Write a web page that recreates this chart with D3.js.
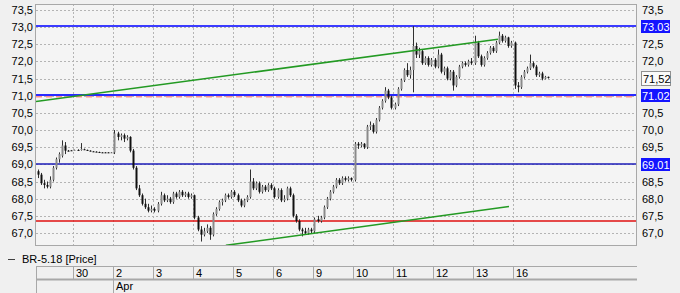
<!DOCTYPE html>
<html>
<head>
<meta charset="utf-8">
<script src="https://cdnjs.cloudflare.com/ajax/libs/d3/7.8.5/d3.min.js"></script>
<style>
  html, body { margin: 0; padding: 0; background: #f0f0f0; }
  svg text { font-family: "Liberation Sans", Arial, sans-serif; font-size: 11px; fill: #000; }
</style>
</head>
<body>
<div id="chart"></div>
<script>
// Day labels and the bar slot where each day starts
var dayLabels = ["30", "2", "3", "4", "5", "6", "9", "10", "11", "12", "13", "16"];
var dayStarts = [12, 25, 38, 51, 64, 77, 90, 103, 116, 129, 142, 155];
var monthLabel = {text: "Apr", slot: 25};

// OHLC per bar (rows = one trading day)
var opens = [
  68.80,68.70,68.45,68.40,68.35,68.55,68.90,69.15,69.25,69.55,69.40,69.41,
  69.41,69.42,69.42,69.44,69.42,69.40,69.38,69.37,69.36,69.35,69.35,69.35,69.34,
  69.35,69.90,69.80,69.85,69.75,69.80,69.40,68.90,68.30,68.10,67.85,67.75,67.65,
  67.70,67.65,67.85,68.10,67.95,68.00,67.90,68.15,68.05,68.20,68.10,68.15,68.05,
  68.10,67.45,67.10,66.95,67.05,67.15,66.95,67.55,67.70,67.90,67.95,68.10,68.05,
  68.20,68.10,67.95,67.80,67.95,68.05,68.50,68.30,68.45,68.20,68.35,68.25,68.40,
  68.30,68.05,68.25,67.95,68.00,68.30,68.10,67.50,67.35,67.10,67.05,67.00,67.10,
  67.05,67.40,67.35,67.45,67.75,68.00,68.20,68.35,68.55,68.45,68.60,68.55,68.60,
  68.55,69.60,69.55,69.60,69.50,70.10,70.15,69.95,70.30,70.65,70.85,71.15,70.95,
  70.65,70.75,71.20,71.45,71.75,71.60,71.75,72.45,72.20,72.30,71.95,72.10,71.90,
  72.05,71.85,72.20,71.70,71.80,71.50,71.70,71.30,71.55,71.85,71.95,71.90,72.00,
  71.95,72.55,72.15,71.90,72.10,72.25,72.40,72.30,72.55,72.75,72.60,72.70,72.45,
  72.55,71.30,71.25,71.55,71.70,71.80,71.95,71.85,71.60,71.65,71.50,71.55
];
var highs = [
  68.85,68.75,68.55,68.50,68.65,68.95,69.20,69.35,69.70,69.65,69.42,69.42,
  69.43,69.44,69.62,69.46,69.43,69.41,69.39,69.38,69.37,69.36,69.36,69.36,69.36,
  70.00,69.95,69.90,69.90,69.85,69.82,69.45,68.95,68.40,68.15,68.00,67.85,67.80,
  67.75,67.90,68.20,68.15,68.10,68.05,68.20,68.20,68.25,68.25,68.20,68.20,68.15,
  68.12,67.50,67.20,67.15,67.25,67.20,67.60,67.75,67.95,68.00,68.15,68.15,68.25,
  68.25,68.15,68.00,68.00,68.10,68.85,68.60,68.50,68.50,68.40,68.40,68.45,68.45,
  68.35,68.30,68.30,68.10,68.35,68.35,68.15,67.55,67.40,67.15,67.15,67.15,67.15,
  67.45,67.50,67.50,67.80,68.05,68.25,68.40,68.60,68.60,68.65,68.65,68.65,68.62,
  69.65,69.65,69.65,69.62,70.15,70.25,70.20,70.35,70.70,70.90,71.25,71.20,71.00,
  70.80,71.25,71.50,71.80,71.95,71.85,73.03,72.55,72.40,72.35,72.15,72.15,72.10,
  72.10,72.35,72.25,71.85,71.85,71.75,71.75,71.60,71.90,72.00,72.00,72.05,72.10,
  72.75,72.60,72.20,72.15,72.30,72.45,72.45,72.60,72.87,72.80,72.75,72.72,72.60,
  72.58,71.40,71.60,71.75,71.85,72.20,72.00,71.90,71.70,71.70,71.58,71.56
];
var lows = [
  68.60,68.40,68.30,68.30,68.30,68.50,68.85,69.05,69.20,69.30,69.38,69.40,
  69.40,69.41,69.40,69.42,69.40,69.38,69.37,69.36,69.35,69.34,69.34,69.34,69.33,
  69.30,69.70,69.70,69.65,69.70,69.35,68.85,68.25,68.05,67.80,67.70,67.60,67.60,
  67.60,67.60,67.80,67.90,67.90,67.85,67.85,68.00,68.00,68.05,68.05,68.00,68.00,
  67.40,67.05,66.75,66.90,67.00,66.80,66.90,67.50,67.65,67.80,67.90,68.00,68.00,
  68.05,67.90,67.75,67.75,67.90,68.00,68.25,68.25,68.15,68.15,68.20,68.20,68.25,
  68.00,68.00,67.90,67.90,67.95,68.05,67.45,67.30,67.05,66.90,66.95,66.95,66.98,
  67.00,67.30,67.30,67.40,67.70,67.95,68.15,68.30,68.40,68.40,68.50,68.50,68.50,
  68.50,69.45,69.50,69.45,69.45,70.00,69.90,69.90,70.25,70.60,70.80,70.90,70.60,
  70.60,70.70,71.15,71.40,71.55,71.50,71.10,72.10,72.10,71.90,71.90,71.85,71.85,
  71.80,71.80,71.65,71.60,71.45,71.45,71.15,71.25,71.50,71.80,71.85,71.85,71.90,
  71.90,72.10,71.85,71.85,72.05,72.20,72.25,72.25,72.50,72.55,72.55,72.40,72.40,
  71.20,71.10,71.20,71.50,71.65,71.75,71.80,71.55,71.55,71.45,71.48,71.50
];
var closes = [
  68.70,68.45,68.40,68.35,68.55,68.90,69.15,69.30,69.55,69.40,69.40,69.41,
  69.42,69.42,69.45,69.43,69.41,69.39,69.38,69.37,69.36,69.35,69.35,69.34,69.35,
  69.90,69.80,69.85,69.75,69.80,69.40,68.90,68.30,68.10,67.85,67.75,67.65,67.70,
  67.65,67.85,68.10,67.95,68.00,67.90,68.15,68.05,68.20,68.10,68.15,68.05,68.10,
  67.45,67.10,66.95,67.05,67.15,66.95,67.55,67.70,67.90,67.95,68.10,68.05,68.20,
  68.10,67.95,67.80,67.95,68.05,68.50,68.30,68.45,68.20,68.35,68.25,68.40,68.30,
  68.05,68.25,67.95,68.00,68.30,68.10,67.50,67.35,67.10,67.05,67.00,67.10,67.05,
  67.40,67.35,67.45,67.75,68.00,68.20,68.35,68.55,68.45,68.60,68.55,68.60,68.55,
  69.60,69.55,69.60,69.50,70.10,70.15,69.95,70.30,70.65,70.85,71.15,70.95,70.65,
  70.75,71.20,71.45,71.75,71.60,71.75,72.45,72.20,72.30,71.95,72.10,71.90,72.05,
  71.85,72.20,71.70,71.80,71.50,71.70,71.30,71.55,71.85,71.95,71.90,72.00,71.95,
  72.55,72.15,71.90,72.10,72.25,72.40,72.30,72.55,72.75,72.60,72.70,72.45,72.55,
  71.30,71.25,71.55,71.70,71.80,71.95,71.85,71.60,71.65,71.50,71.55,71.52
];

// Price axis ticks
var priceTicks = [67.0, 67.5, 68.0, 68.5, 69.0, 69.5, 70.0, 70.5, 71.0, 71.5, 72.0, 72.5, 73.0, 73.5];
var rightHidden = [73.0, 71.5, 71.0, 69.0];

// Horizontal levels with tags on the right
var levelValues = [73.03, 71.02, 69.01];
var levelColors = ["#3a3aff", "#2a2aff", "#1c1cb8"];
var levelWidths = [2, 2, 1.5];
var redLevel = 67.35;
var dashedLevel = 70.97;
var lastPrice = 71.52;

// Trend lines [slot, price]
var trendUpper = [[0, 70.83], [150.1, 72.65]];
var trendLower = [[61.7, 66.64], [153.7, 67.77]];

var width = 680, height = 293;
var plot = {left: 36, right: 637, top: 4, bottom: 246};
var slotsInView = 195.3;

var svg = d3.select("#chart").append("svg")
    .attr("width", width)
    .attr("height", height);

svg.append("rect").attr("width", width).attr("height", height).attr("fill", "#f0f0f0");

var x = d3.scaleLinear().domain([0, slotsInView]).range([plot.left, plot.right]);
var y = d3.scaleLinear().domain([66.62, 73.675]).range([plot.bottom, plot.top]);

var fmt = function(v) { return d3.format(".1f")(v).replace(".", ","); };

// Plot background
svg.append("rect")
    .attr("x", plot.left).attr("y", plot.top)
    .attr("width", plot.right - plot.left).attr("height", plot.bottom - plot.top)
    .attr("fill", "#f4f4f4");

svg.append("clipPath").attr("id", "clip")
    .append("rect")
    .attr("x", plot.left).attr("y", plot.top)
    .attr("width", plot.right - plot.left).attr("height", plot.bottom - plot.top);

var g = svg.append("g").attr("clip-path", "url(#clip)");

// Grid
g.selectAll(".hgrid").data(priceTicks).enter().append("line")
    .attr("x1", plot.left).attr("x2", plot.right)
    .attr("y1", function(d) { return Math.round(y(d)) + 0.5; })
    .attr("y2", function(d) { return Math.round(y(d)) + 0.5; })
    .attr("stroke", "#b4b4b4").attr("stroke-dasharray", "2,2");

g.selectAll(".vgrid").data(dayStarts).enter().append("line")
    .attr("x1", function(d) { return Math.round(x(d)) + 0.5; })
    .attr("x2", function(d) { return Math.round(x(d)) + 0.5; })
    .attr("y1", plot.top).attr("y2", plot.bottom)
    .attr("stroke", "#b4b4b4").attr("stroke-dasharray", "2,2");

// Levels
g.append("line")
    .attr("x1", plot.left).attr("x2", plot.right)
    .attr("y1", y(dashedLevel)).attr("y2", y(dashedLevel))
    .attr("stroke", "#ff8c8c").attr("stroke-width", 1.5).attr("stroke-dasharray", "6,4");

g.append("line")
    .attr("x1", plot.left).attr("x2", plot.right)
    .attr("y1", y(redLevel)).attr("y2", y(redLevel))
    .attr("stroke", "#e01010").attr("stroke-width", 1.5);

g.selectAll(".level").data(levelValues).enter().append("line")
    .attr("x1", plot.left).attr("x2", plot.right)
    .attr("y1", function(d) { return y(d); })
    .attr("y2", function(d) { return y(d); })
    .attr("stroke", function(d, i) { return levelColors[i]; })
    .attr("stroke-width", function(d, i) { return levelWidths[i]; });

// Candles
var bars = closes.map(function(c, i) {
    return {i: i, o: opens[i], h: highs[i], l: lows[i], c: c};
});

var candle = g.selectAll(".candle").data(bars).enter().append("g");

candle.append("line")
    .attr("x1", function(d) { return Math.round(x(d.i + 0.5)) + 0.5; })
    .attr("x2", function(d) { return Math.round(x(d.i + 0.5)) + 0.5; })
    .attr("y1", function(d) { return y(d.h); })
    .attr("y2", function(d) { return y(d.l); })
    .attr("stroke", "#303030").attr("stroke-width", 1);

candle.append("rect")
    .attr("x", function(d) { return Math.round(x(d.i + 0.5)) - 0.5; })
    .attr("width", 2)
    .attr("y", function(d) { return y(Math.max(d.o, d.c)); })
    .attr("height", function(d) { return Math.max(1, Math.abs(y(d.o) - y(d.c))); })
    .attr("fill", function(d) { return d.c > d.o ? "#8a8a8a" : "#101010"; });

// Trend lines
[trendUpper, trendLower].forEach(function(t) {
    g.append("line")
        .attr("x1", x(t[0][0])).attr("y1", y(t[0][1]))
        .attr("x2", x(t[1][0])).attr("y2", y(t[1][1]))
        .attr("stroke", "#239a23").attr("stroke-width", 1.5);
});

// Plot border
svg.append("rect")
    .attr("x", plot.left - 0.5).attr("y", plot.top + 0.5)
    .attr("width", plot.right - plot.left).attr("height", plot.bottom - plot.top - 1)
    .attr("fill", "none").attr("stroke", "#a8a8a8");

// Left axis
var leftAxis = svg.append("g")
    .attr("transform", "translate(" + (plot.left - 1) + ",0)")
    .call(d3.axisLeft(y).tickValues(priceTicks).tickSize(0).tickPadding(2).tickFormat(fmt));
leftAxis.select(".domain").remove();
leftAxis.selectAll("text").style("font-family", "\"Liberation Sans\", Arial, sans-serif").style("font-size", "11px").attr("fill", "#000");

// Right axis
var rightAxis = svg.append("g")
    .attr("transform", "translate(" + (plot.right + 1) + ",0)")
    .call(d3.axisRight(y)
        .tickValues(priceTicks.filter(function(d) { return rightHidden.indexOf(d) < 0; }))
        .tickSize(0).tickPadding(4).tickFormat(fmt));
rightAxis.select(".domain").remove();
rightAxis.selectAll("text").style("font-family", "\"Liberation Sans\", Arial, sans-serif").style("font-size", "11px").attr("fill", "#000");

// Level tags
var tags = svg.selectAll(".tag").data(levelValues).enter().append("g")
    .attr("transform", function(d) { return "translate(" + (plot.right + 4) + "," + Math.round(y(d)) + ")"; });
tags.append("rect")
    .attr("x", 0).attr("y", -6).attr("width", 29).attr("height", 13)
    .attr("fill", "#1414ff");
tags.append("text")
    .attr("x", 1).attr("y", 4.5)
    .style("fill", "#fff")
    .text(function(d) { return d3.format(".2f")(d); });

// Last price tag
var lp = svg.append("g").attr("transform", "translate(" + (plot.right + 4) + "," + Math.round(y(lastPrice)) + ")");
lp.append("rect")
    .attr("x", 0.5).attr("y", -6.5).attr("width", 29).attr("height", 14)
    .attr("fill", "#fafafa").attr("stroke", "#909090");
lp.append("text")
    .attr("x", 2).attr("y", 4.5)
    .text(d3.format(".2f")(lastPrice).replace(".", ","));

// Legend
svg.append("line")
    .attr("x1", 8).attr("x2", 15).attr("y1", 259.5).attr("y2", 259.5)
    .attr("stroke", "#404040");
svg.append("text").attr("x", 22).attr("y", 263).text("BR-5.18 [Price]");

// Date table
var rowTop = 266.5, rowMid = 279.5, rowBot = 293;
svg.append("line").attr("x1", plot.left).attr("x2", plot.right).attr("y1", rowTop).attr("y2", rowTop)
    .attr("stroke", "#a8a8a8");
svg.append("line").attr("x1", plot.left).attr("x2", plot.right).attr("y1", rowMid).attr("y2", rowMid)
    .attr("stroke", "#a8a8a8").attr("stroke-width", 2);
svg.append("line").attr("x1", plot.left + 0.5).attr("x2", plot.left + 0.5).attr("y1", rowTop).attr("y2", rowBot)
    .attr("stroke", "#a8a8a8");

var dayCell = svg.selectAll(".day").data(dayLabels).enter().append("g");
dayCell.append("line")
    .attr("x1", function(d, i) { return Math.round(x(dayStarts[i])) + 0.5; })
    .attr("x2", function(d, i) { return Math.round(x(dayStarts[i])) + 0.5; })
    .attr("y1", rowTop).attr("y2", rowMid)
    .attr("stroke", "#a8a8a8");
dayCell.append("text")
    .attr("x", function(d, i) { return Math.round(x(dayStarts[i])) + 3; })
    .attr("y", 277)
    .text(function(d) { return d; });

svg.append("line")
    .attr("x1", Math.round(x(monthLabel.slot)) + 0.5).attr("x2", Math.round(x(monthLabel.slot)) + 0.5)
    .attr("y1", rowMid).attr("y2", rowBot)
    .attr("stroke", "#a8a8a8");
svg.append("text")
    .attr("x", Math.round(x(monthLabel.slot)) + 3).attr("y", 290)
    .text(monthLabel.text);
</script>
</body>
</html>
